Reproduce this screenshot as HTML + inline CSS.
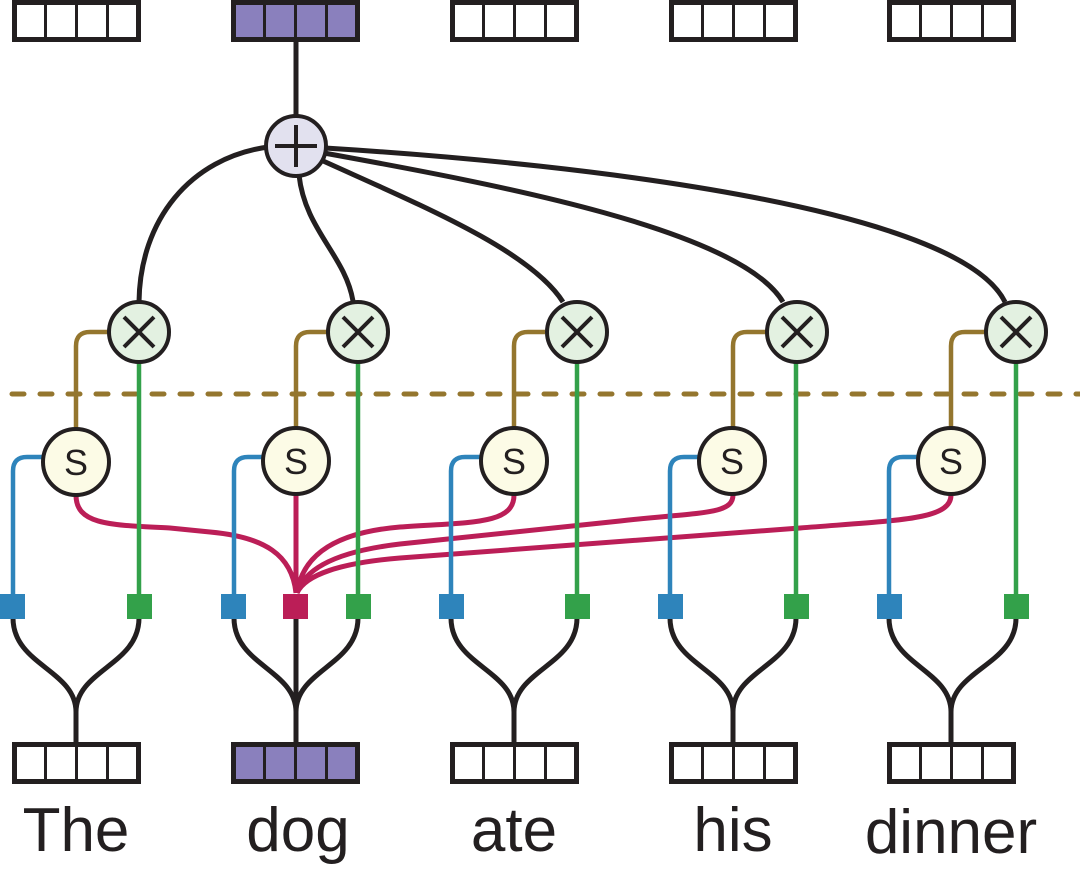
<!DOCTYPE html>
<html><head><style>html,body{margin:0;padding:0;background:#fff}svg{display:block}</style></head>
<body>
<svg width="1080" height="885" viewBox="0 0 1080 885" xmlns="http://www.w3.org/2000/svg">
<defs>
<g id="box">
  <rect x="2.5" y="2.5" width="124" height="37" fill="currentColor" stroke="#231f20" stroke-width="5"/>
  <line x1="33.5" y1="3" x2="33.5" y2="39" stroke="#231f20" stroke-width="3"/>
  <line x1="64.5" y1="3" x2="64.5" y2="39" stroke="#231f20" stroke-width="3"/>
  <line x1="95.5" y1="3" x2="95.5" y2="39" stroke="#231f20" stroke-width="3"/>
</g>
</defs>
<!-- top boxes -->
<g color="#fff"><use href="#box" x="12" y="0"/><use href="#box" x="450" y="0"/><use href="#box" x="669" y="0"/><use href="#box" x="887" y="0"/></g>
<g color="#8a80bd"><use href="#box" x="231" y="0"/></g>
<line x1="296" y1="42" x2="296" y2="118" stroke="#231f20" stroke-width="5"/>
<!-- curves plus to X -->
<g fill="none" stroke="#231f20" stroke-width="5">
<path d="M268,147 C190,158 140,220 139,302"/>
<path d="M299,175 C305,230 345,255 353,301"/>
<path d="M321,160 C420,205 530,250 563,302"/>
<path d="M324,153 C500,185 740,230 783,302"/>
<path d="M325,148 C600,165 960,210 1005,302"/>
</g>
<!-- dashed line -->
<line x1="12" y1="394" x2="1080" y2="394" stroke="#94762e" stroke-width="5" stroke-dasharray="12,16" stroke-linecap="round"/>
<!-- bottom connectors -->
<g fill="none" stroke="#231f20" stroke-width="5">
<path d="M13,618 C13,665 76,670 76,712 L76,744 M139,618 C139,665 76,670 76,712"/>
<path d="M234,618 C234,665 296,670 296,712 L296,744 M358,618 C358,665 296,670 296,712 M296,618 L296,712"/>
<path d="M451,618 C451,665 514,670 514,712 L514,744 M577,618 C577,665 514,670 514,712"/>
<path d="M670,618 C670,665 733,670 733,712 L733,744 M796,618 C796,665 733,670 733,712"/>
<path d="M889,618 C889,665 951,670 951,712 L951,744 M1016,618 C1016,665 951,670 951,712"/>
</g>
<!-- red lines -->
<g fill="none" stroke="#bb1e57" stroke-width="5">
<path d="M76,495 C76,525 110,525 170,528 L210,532 C265,537 292,555 296,593"/>
<path d="M296,495 L296,593"/>
<path d="M514,495 C514,525 470,522 400,527 C340,532 303,552 297,593"/>
<path d="M733,495 C733,515 700,512 620,521 L400,544 C340,551 305,567 297,593"/>
<path d="M951,495 C951,520 900,520 800,528 L400,558 C340,563 305,575 297,593"/>
</g>
<!-- per column -->
<g id="col">
</g>
<g fill="none" stroke-width="4.5">
<!-- brown -->
<path stroke="#94762e" d="M108,332 L90,332 Q76,332 76,346 L76,430"/>
<path stroke="#94762e" d="M327,332 L310,332 Q296,332 296,346 L296,430"/>
<path stroke="#94762e" d="M545,332 L528,332 Q514,332 514,346 L514,430"/>
<path stroke="#94762e" d="M766,332 L747,332 Q733,332 733,346 L733,430"/>
<path stroke="#94762e" d="M985,332 L965,332 Q951,332 951,346 L951,430"/>
<!-- blue -->
<path stroke="#2e84bb" d="M44,457 L27,457 Q13,457 13,471 L13,598"/>
<path stroke="#2e84bb" d="M264,457 L248,457 Q234,457 234,471 L234,598"/>
<path stroke="#2e84bb" d="M482,457 L465,457 Q451,457 451,471 L451,598"/>
<path stroke="#2e84bb" d="M701,457 L684,457 Q670,457 670,471 L670,598"/>
<path stroke="#2e84bb" d="M919,457 L903,457 Q889,457 889,471 L889,598"/>
<!-- green -->
<path stroke="#33a14a" d="M139,360 L139,598 M358,360 L358,598 M577,360 L577,598 M796,360 L796,598 M1016,360 L1016,598"/>
</g>
<!-- squares -->
<g fill="#2e84bb"><rect x="0" y="594" width="25" height="25"/><rect x="221" y="594" width="25" height="25"/><rect x="439" y="594" width="25" height="25"/><rect x="658" y="594" width="25" height="25"/><rect x="877" y="594" width="25" height="25"/></g>
<g fill="#33a14a"><rect x="127" y="594" width="25" height="25"/><rect x="346" y="594" width="25" height="25"/><rect x="565" y="594" width="25" height="25"/><rect x="784" y="594" width="25" height="25"/><rect x="1004" y="594" width="25" height="25"/></g>
<rect x="283" y="594" width="25" height="25" fill="#bb1e57"/>
<!-- X circles -->
<g stroke="#231f20" stroke-width="4">
<g fill="#e3f1e1">
<circle cx="139" cy="332" r="30"/><circle cx="358" cy="332" r="30"/><circle cx="577" cy="332" r="30"/><circle cx="797" cy="332" r="30"/><circle cx="1016" cy="332" r="30"/>
</g>
<path fill="none" d="M124,317 L154,347 M154,317 L124,347 M343,317 L373,347 M373,317 L343,347 M562,317 L592,347 M592,317 L562,347 M782,317 L812,347 M812,317 L782,347 M1001,317 L1031,347 M1031,317 L1001,347"/>
<g fill="#fcfbe6">
<circle cx="76" cy="462" r="33"/><circle cx="296" cy="461" r="33"/><circle cx="514" cy="461" r="33"/><circle cx="732" cy="461" r="33"/><circle cx="951" cy="461" r="33"/>
</g>
<circle cx="296" cy="146" r="30" fill="#e2e1ef"/>
<path d="M275,146 L317,146 M296,125 L296,167" stroke-width="4"/>
</g>
<g font-family="Liberation Sans, sans-serif" font-size="36" fill="#231f20" text-anchor="middle">
<text x="76" y="475">S</text><text x="296" y="474">S</text><text x="514" y="474">S</text><text x="732" y="474">S</text><text x="951" y="474">S</text>
</g>
<!-- bottom boxes -->
<g color="#fff"><use href="#box" x="12" y="742"/><use href="#box" x="450" y="742"/><use href="#box" x="669" y="742"/><use href="#box" x="887" y="742"/></g>
<g color="#8a80bd"><use href="#box" x="231" y="742"/></g>
<g font-family="Liberation Sans, sans-serif" font-size="62" fill="#231f20" text-anchor="middle">
<text x="76" y="851">The</text><text x="298" y="851">dog</text><text x="514" y="851">ate</text><text x="733" y="851">his</text><text x="951" y="853">dinner</text>
</g>
</svg>
</body></html>
